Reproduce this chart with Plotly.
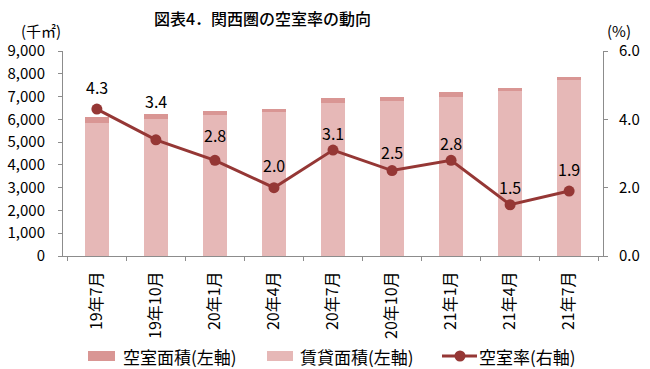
import plotly.graph_objects as go

categories = ["19年7月", "19年10月", "20年1月", "20年4月", "20年7月", "20年10月", "21年1月", "21年4月", "21年7月"]
leased_area = [5850, 6025, 6175, 6325, 6720, 6795, 7000, 7265, 7725]
vacant_area = [264, 212, 178, 130, 216, 172, 200, 110, 148]
vacancy_rate = [4.3, 3.4, 2.8, 2.0, 3.1, 2.5, 2.8, 1.5, 1.9]
y1_ticks = [0, 1000, 2000, 3000, 4000, 5000, 6000, 7000, 8000, 9000]
y2_ticks = [0, 2, 4, 6]

series_names = ["空室面積(左軸)", "賃貸面積(左軸)", "空室率(右軸)"]

# pixel lift of each rate label above its marker (styling)
label_lift = [22, 39, 25, 23, 17, 19, 17, 18, 22]

FONT = "Noto Sans CJK JP"
W, H = 650, 369
L, R, T, B = 63, 603, 51, 256
C_LEASED = "#E6B8B7"
C_VACANT = "#D99694"
C_LINE = "#953735"


def px(x):
    return (x - L) / (R - L)


def py(y):
    return (B - y) / (B - T)


fig = go.Figure()
fig.add_trace(go.Bar(
    x=categories, y=leased_area, name=series_names[1],
    marker=dict(color=C_LEASED, line=dict(width=0)), showlegend=False,
))
fig.add_trace(go.Bar(
    x=categories, y=vacant_area, name=series_names[0],
    marker=dict(color=C_VACANT, line=dict(width=0)), showlegend=False,
))
fig.add_trace(go.Scatter(
    x=categories, y=vacancy_rate, name=series_names[2], yaxis="y2",
    mode="lines+markers",
    line=dict(color=C_LINE, width=3),
    marker=dict(color=C_LINE, size=11), showlegend=False,
))

annotations = [
    dict(x=c, y=v, xref="x", yref="y2", text=f"{v:.1f}", showarrow=False,
         yshift=s, xanchor="center", yanchor="middle",
         font=dict(family=FONT, size=16, color="#000000"))
    for c, v, s in zip(categories, vacancy_rate, label_lift)
]
annotations += [
    dict(text="図表4．関西圏の空室率の動向", xref="paper", yref="paper",
         x=px(262), y=py(18), xanchor="center", yanchor="middle",
         showarrow=False, font=dict(family=FONT, size=16, weight=500)),
    dict(text="(千㎡)", xref="paper", yref="paper",
         x=px(41), y=py(31), xanchor="center", yanchor="middle",
         showarrow=False, font=dict(family=FONT, size=15)),
    dict(text="(%)", xref="paper", yref="paper",
         x=px(619), y=py(31), xanchor="center", yanchor="middle",
         showarrow=False, font=dict(family=FONT, size=15)),
]

# legend (drawn as shapes + text)
LEG_Y = 356
legend_text_x = [121, 298, 477]
for name, tx in zip(series_names, legend_text_x):
    annotations.append(dict(
        text=name, xref="paper", yref="paper", x=px(tx), y=py(LEG_Y),
        xanchor="left", yanchor="middle", showarrow=False,
        font=dict(family=FONT, size=17, color="#000000"),
    ))

shapes = [
    dict(type="rect", xref="paper", yref="paper", x0=px(88), x1=px(115),
         y0=py(361), y1=py(351), fillcolor=C_VACANT, line=dict(width=0), layer="above"),
    dict(type="rect", xref="paper", yref="paper", x0=px(267), x1=px(293),
         y0=py(361), y1=py(351), fillcolor=C_LEASED, line=dict(width=0), layer="above"),
    dict(type="line", xref="paper", yref="paper", x0=px(442), x1=px(477),
         y0=py(LEG_Y), y1=py(LEG_Y), line=dict(color=C_LINE, width=3), layer="above"),
    dict(type="circle", xref="paper", yref="paper", x0=px(454.5), x1=px(465.5),
         y0=py(LEG_Y + 5.5), y1=py(LEG_Y - 5.5), fillcolor=C_LINE,
         line=dict(width=0), layer="above"),
]

axis_col = "#8C8C8C"
fig.update_layout(
    width=W, height=H,
    margin=dict(l=L, r=W - R, t=T, b=H - B, pad=0, autoexpand=False),
    paper_bgcolor="white", plot_bgcolor="white",
    barmode="stack", bargap=0.6,
    font=dict(family=FONT, size=16, color="#000000"),
    showlegend=False,
    xaxis=dict(
        type="category", showline=True, linecolor=axis_col, linewidth=1,
        ticks="outside", ticklen=4, tickcolor=axis_col, tickson="boundaries",
        tickangle=-90, showgrid=False, tickfont=dict(family=FONT, size=16),
        ticklabelstandoff=8, automargin=False,
    ),
    yaxis=dict(
        range=[0, 9000], tickvals=y1_ticks, tickformat=",", showgrid=False,
        showline=True, linecolor=axis_col, linewidth=1, ticks="outside",
        ticklen=4, tickcolor=axis_col, zeroline=False, automargin=False,
        tickfont=dict(family=FONT, size=15), ticklabelstandoff=10,
    ),
    yaxis2=dict(
        range=[0, 6], tickvals=y2_ticks, tickformat=".1f", overlaying="y",
        side="right", showgrid=False, showline=True, linecolor=axis_col,
        linewidth=1, ticks="outside", ticklen=4, tickcolor=axis_col,
        zeroline=False, tickfont=dict(family=FONT, size=15), ticklabelstandoff=8,
        automargin=False,
    ),
    annotations=annotations,
    shapes=shapes,
)

fig.write_html(
    "out.html",
    config={"displayModeBar": False},
    post_script="document.body.style.margin='0';document.body.style.overflow='hidden';",
)
